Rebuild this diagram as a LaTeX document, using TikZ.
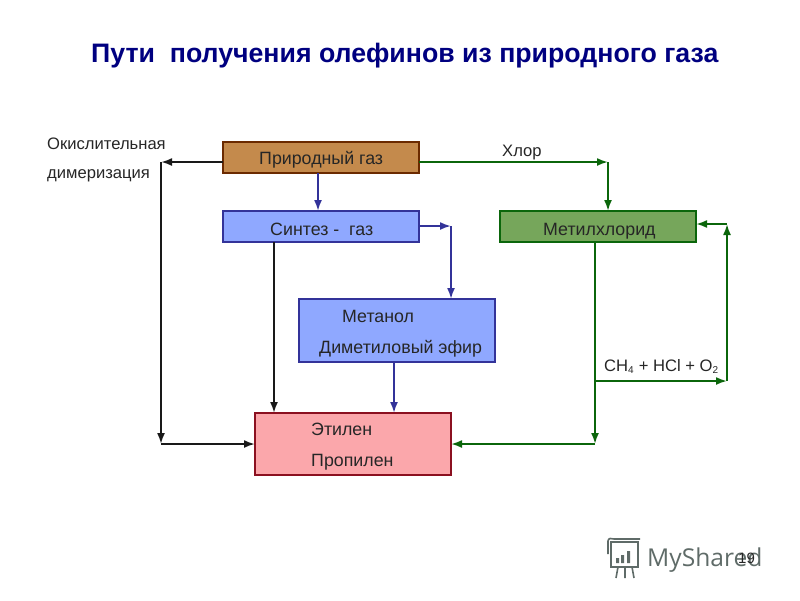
\documentclass[tikz,border=0pt]{standalone}
\usepackage{fontspec}
\setmainfont{Liberation Sans}
\newfontfamily\logofont{Open Sans}
\usetikzlibrary{arrows.meta}
\definecolor{titleblue}{HTML}{000080}
\definecolor{brownfill}{HTML}{C48A4C}
\definecolor{brownline}{HTML}{6B2A00}
\definecolor{bluefill}{HTML}{8FA8FF}
\definecolor{blueline}{HTML}{333399}
\definecolor{greenfill}{HTML}{76A65B}
\definecolor{greenline}{HTML}{0B660B}
\definecolor{redfill}{HTML}{FBA7AB}
\definecolor{redline}{HTML}{8B1020}
\definecolor{logogray}{HTML}{5F6B68}
\tikzset{
  boxbase/.style={draw,line width=1.7pt,outer sep=0pt,minimum width=196pt,inner sep=0pt,anchor=north west},
  gasbox/.style={boxbase,fill=brownfill,draw=brownline,minimum height=31pt},
  syngas/.style={boxbase,fill=bluefill,draw=blueline,minimum height=31pt},
  tallblue/.style={boxbase,fill=bluefill,draw=blueline,minimum height=63pt},
  mcbox/.style={boxbase,fill=greenfill,draw=greenline,minimum height=31pt},
  prodbox/.style={boxbase,fill=redfill,draw=redline,minimum height=62pt},
  lbl/.style={font=\fontsize{17.8}{20}\selectfont,text=black!85,inner sep=0pt,anchor=base west},
  side/.style={font=\fontsize{16.6}{20}\selectfont,text=black!85,inner sep=0pt,anchor=base west},
  conn/.style={line width=1.9pt,-{Latex[length=11pt,width=8pt]}},
  bk/.style={conn,draw=black!90},
  bl/.style={conn,draw=blueline},
  gr/.style={conn,draw=greenline},
}
\begin{document}
\begin{tikzpicture}[x=1pt,y=-1pt]
\useasboundingbox (0,0) rectangle (800,600);
\node[font=\bfseries\fontsize{26.7}{30}\selectfont,text=titleblue,inner sep=0pt,anchor=base west] (title) at (91,62) {Пути\ \ получения олефинов из природного газа};

\node[gasbox] (gas) at (223,142) {};
\node[syngas] (syn) at (223,211) {};
\node[mcbox] (mc) at (500,211) {};
\node[tallblue] (meth) at (299,299) {};
\node[prodbox] (prod) at (255,413) {};

\node[lbl] (tgas) at (259,164) {Природный газ};
\node[lbl] (tsyn) at (270,235) {Синтез -\ \ газ};
\node[lbl] (tmc) at (543,235) {Метилхлорид};
\node[lbl] (tm1) at (342,322) {Метанол};
\node[lbl] (tm2) at (319,353) {Диметиловый\ эфир};
\node[lbl] (tp1) at (311,435) {Этилен};
\node[lbl] (tp2) at (311,466) {Пропилен};
\node[side] (tox1) at (47,149) {Окислительная};
\node[side] (tox2) at (47,178) {димеризация};
\node[side] (tcl) at (502,156) {Хлор};
\node[side] (tmix) at (604,371) {CH\textsubscript{\fontsize{10}{10}\selectfont 4} + HCl + O\textsubscript{\fontsize{10}{10}\selectfont 2}};

% corners and branch points
\coordinate (c1) at (608,162);
\coordinate (c2) at (161,162);
\coordinate (c3) at (161,444);
\coordinate (c4) at (451,226);
\coordinate (c5) at (595,444);
\coordinate (c6) at (595,381);
\coordinate (c7) at (727,381);
\coordinate (c8) at (727,224);
\coordinate (x1) at (318,0);
\coordinate (x2) at (274,0);
\coordinate (x3) at (394,0);

% green
\draw[gr] (gas.east |- c1) -- (c1);
\draw[gr] (c1) -- (c1 |- mc.north);
\draw[gr] (c5 |- mc.south) -- (c5);
\draw[gr] (c5) -- (prod.east |- c5);
\draw[gr] (c6) -- (c7);
\draw[gr] (c7) -- (c8);
\draw[gr] (c8) -- (mc.east |- c8);
% black
\draw[bk] (gas.west |- c2) -- (c2);
\draw[bk] (c2) -- (c3);
\draw[bk] (c3) -- (prod.west |- c3);
\draw[bk] (x2 |- syn.south) -- (x2 |- prod.north);
% blue
\draw[bl] (x1 |- gas.south) -- (x1 |- syn.north);
\draw[bl] (syn.east |- c4) -- (c4);
\draw[bl] (c4) -- (c4 |- meth.north);
\draw[bl] (x3 |- meth.south) -- (x3 |- prod.north);

% watermark logo
\begin{scope}[draw=logogray,line width=1.6pt]
\draw (611,542) rectangle (638,567);
\draw (608,554) -- (608,541) .. controls (608,538) and (612,538) .. (614,539) -- (640,539);
\fill[logogray] (616,558) rectangle (619,563) (621,555) rectangle (624,563) (627,551) rectangle (630,563);
\draw (618,567) -- (616,578) (625,567) -- (625,578) (632,567) -- (634,578);
\end{scope}
\node[font=\logofont\fontsize{24.6}{28}\selectfont,text=logogray,inner sep=0pt,anchor=base west] (logo) at (647,566) {MyShared};
\node[font=\fontsize{15}{18}\selectfont,text=black!85,inner sep=0pt,anchor=base west] (page) at (738,563) {19};
\end{tikzpicture}
\end{document}
